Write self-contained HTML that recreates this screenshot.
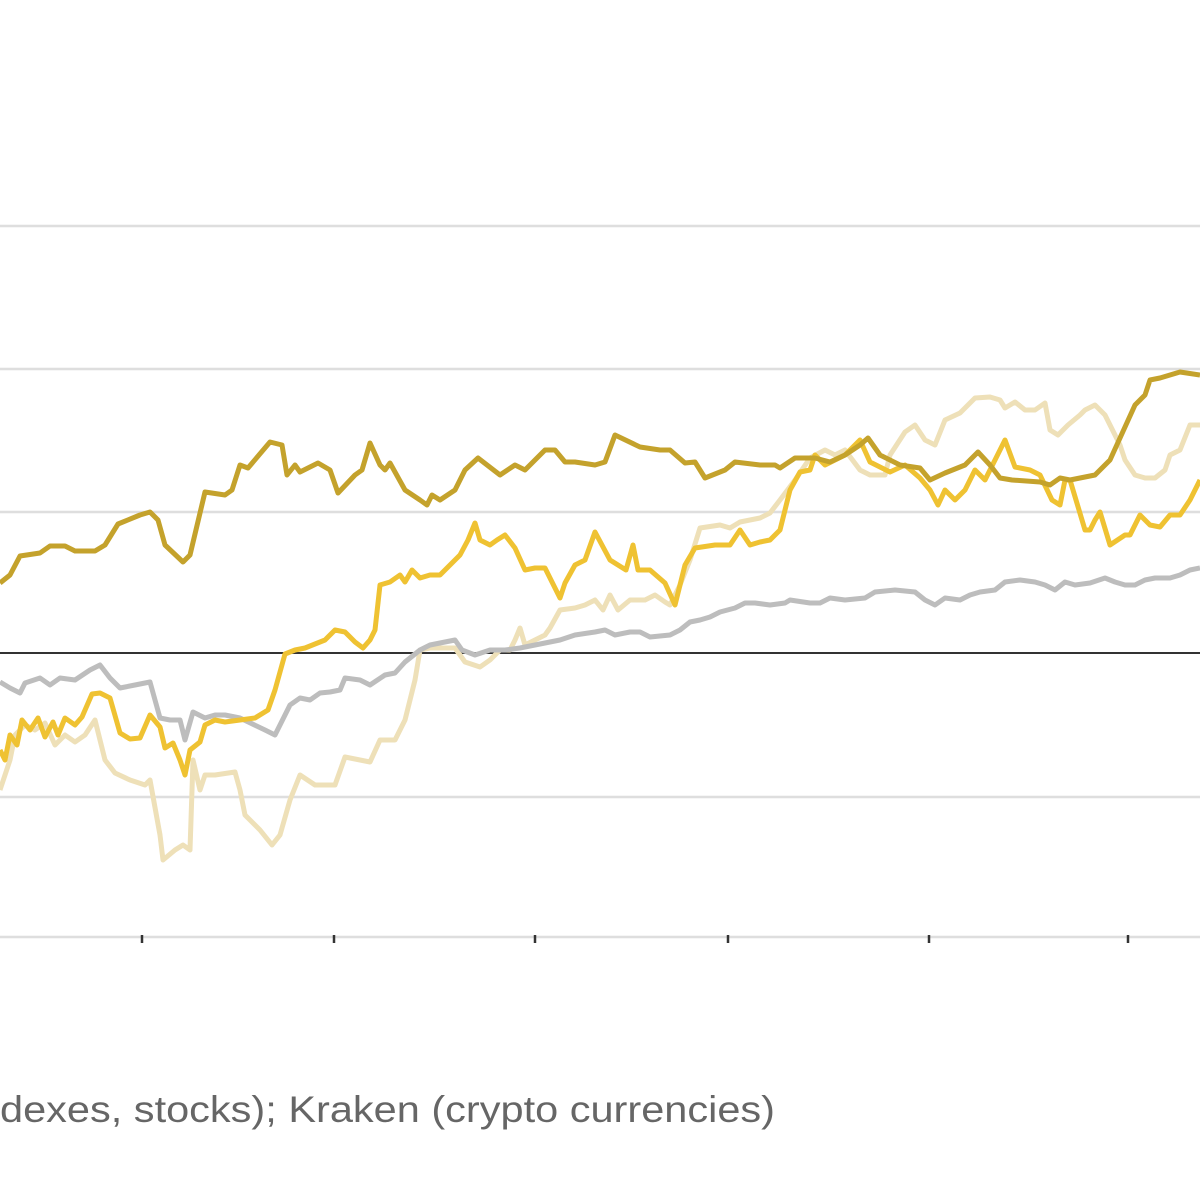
<!DOCTYPE html>
<html><head><meta charset="utf-8"><style>
html,body{margin:0;padding:0;background:#fff;width:1200px;height:1200px;overflow:hidden}
svg{display:block}
</style></head><body>
<svg id="chart" width="1200" height="1200" viewBox="0 0 1200 1200">
<g id="grid"></g>
<g id="series"></g>
<text x="0" y="1122" font-family="Liberation Sans, sans-serif" font-size="37" fill="#666" textLength="775" lengthAdjust="spacingAndGlyphs">dexes, stocks); Kraken (crypto currencies)</text>
</svg>
<script>
const gridValues = [427, 284, 141, -144, -284];
const xTicks = [142, 334, 535, 728, 929, 1128];

const goldDays = [0,10,20,40,50,65,75,95,105,118,140,150,158,165,183,190,205,225,232,240,248,270,282,287,295,300,318,330,338,355,362,370,380,385,390,405,420,427,432,440,455,465,478,500,515,525,545,555,565,575,595,605,615,640,660,670,685,695,705,725,735,760,775,780,795,815,830,845,860,868,880,900,920,930,945,965,978,990,1000,1012,1040,1050,1060,1070,1095,1110,1135,1145,1150,1160,1180,1200];
const goldValues = [70,78,97,100,107,107,102,102,108,129,138,141,133,108,91,98,161,158,163,188,185,211,208,178,188,181,190,183,160,178,183,210,188,183,190,163,153,148,158,153,163,183,195,178,188,183,203,203,191,191,188,191,218,206,203,203,190,191,175,183,191,188,188,185,195,195,191,198,208,215,198,188,185,173,180,188,201,188,175,173,171,168,175,173,178,193,248,258,273,275,281,278];

const yellowDays = [0,5,10,17,22,30,38,45,53,58,65,75,82,92,100,110,120,130,140,150,160,165,173,180,185,190,200,205,215,225,240,255,268,275,285,295,305,325,335,345,355,363,370,375,380,390,400,405,412,420,430,440,450,460,468,475,480,490,497,505,515,525,535,545,560,565,575,585,595,610,618,626,633,638,650,665,675,685,695,715,730,740,750,760,770,780,790,800,810,815,825,835,845,855,860,870,890,905,920,930,938,945,955,965,975,985,995,1005,1015,1030,1040,1052,1060,1065,1070,1085,1090,1095,1100,1110,1125,1130,1140,1150,1160,1170,1180,1190,1200];
const yellowValues = [-97,-107,-82,-92,-67,-77,-65,-84,-69,-82,-65,-72,-64,-41,-40,-45,-80,-86,-85,-62,-74,-95,-90,-107,-122,-97,-89,-72,-67,-69,-67,-65,-57,-37,-1,3,5,13,23,21,11,5,13,23,68,71,78,71,83,75,78,78,88,98,113,130,113,108,113,118,105,83,85,85,55,70,88,93,121,93,88,83,108,83,83,70,48,88,105,108,108,123,108,111,113,123,163,181,183,198,188,193,198,208,213,191,181,188,175,163,148,163,153,163,183,173,193,213,186,183,178,153,148,173,173,123,123,133,141,108,118,118,138,128,126,138,138,153,173];

const beigeDays = [0,10,15,25,35,45,55,65,75,85,95,105,115,130,145,150,160,163,175,183,190,193,200,205,215,235,240,245,260,272,280,290,300,315,325,335,345,360,370,380,395,405,415,420,430,445,455,465,480,490,500,510,515,520,525,535,545,550,560,575,585,595,603,610,618,630,645,655,665,670,680,690,700,720,730,740,760,770,780,795,810,825,835,845,860,870,885,890,905,915,925,935,945,960,975,990,1000,1005,1015,1025,1035,1045,1050,1058,1068,1080,1085,1095,1105,1115,1120,1125,1135,1145,1155,1165,1170,1180,1190,1200];
const beigeValues = [-137,-107,-82,-72,-77,-70,-92,-82,-89,-82,-67,-107,-120,-127,-132,-127,-182,-207,-197,-192,-197,-107,-137,-122,-122,-119,-137,-162,-177,-192,-182,-147,-122,-132,-132,-132,-104,-107,-109,-87,-87,-67,-27,3,5,5,5,-9,-14,-7,3,3,13,25,8,13,18,25,43,45,48,53,43,58,43,53,53,58,51,48,68,93,125,128,125,131,135,140,153,173,195,203,198,203,183,178,178,198,221,228,213,208,233,240,255,256,253,245,251,243,243,250,223,218,228,238,243,248,238,218,208,193,178,175,175,183,198,203,228,228];

const greyDays = [0,10,20,25,40,50,60,75,90,100,110,120,135,145,150,160,170,180,185,193,205,215,225,240,265,275,285,290,300,310,320,330,340,345,360,370,385,395,405,420,430,455,462,475,490,505,520,535,550,560,575,595,605,615,630,640,650,670,680,690,700,710,720,735,745,755,770,785,790,810,820,830,845,865,875,895,915,925,935,945,960,970,980,995,1005,1020,1035,1045,1055,1065,1075,1090,1105,1115,1125,1135,1145,1155,1170,1180,1190,1200];
const greyValues = [-29,-35,-40,-30,-25,-32,-25,-27,-17,-12,-25,-35,-32,-30,-29,-65,-67,-67,-87,-59,-65,-62,-62,-65,-77,-82,-62,-52,-45,-47,-40,-39,-37,-25,-27,-32,-22,-20,-9,3,8,13,3,-2,3,3,5,8,11,13,18,21,23,18,21,21,16,18,23,31,33,36,41,45,50,50,48,50,53,50,50,55,53,55,61,63,61,53,48,55,53,58,61,63,71,73,71,68,63,71,68,70,75,71,68,68,73,75,75,78,83,85];

const X0 = 0, X1 = 1200, D0 = 0, D1 = 1200;
const BASE_Y = 653;
function xScale(d){ return X0 + (d - D0) / (D1 - D0) * (X1 - X0); }
function yScale(v){ return BASE_Y - v; }

const NS = 'http://www.w3.org/2000/svg';
const grid = document.getElementById('grid');
gridValues.forEach(v => {
  const l = document.createElementNS(NS, 'line');
  
  
  l.setAttribute('x1', 0); l.setAttribute('x2', 1200);
  l.setAttribute('y1', yScale(v)); l.setAttribute('y2', yScale(v));
  l.setAttribute('stroke', '#dedede'); l.setAttribute('stroke-width', 2.5);
  grid.appendChild(l);
});
xTicks.forEach(d => {
  const t = document.createElementNS(NS, 'line');
  
  
  t.setAttribute('x1', xScale(d)); t.setAttribute('x2', xScale(d));
  t.setAttribute('y1', 935); t.setAttribute('y2', 943);
  t.setAttribute('stroke', '#333'); t.setAttribute('stroke-width', 2.5);
  grid.appendChild(t);
});

const seriesG = document.getElementById('series');
function drawLine(days, values, color, name){
  const p = document.createElementNS(NS, 'polyline');
  
  
  p.setAttribute('points', days.map((d,i) => xScale(d) + ',' + yScale(values[i])).join(' '));
  p.setAttribute('fill', 'none'); p.setAttribute('stroke', color);
  p.setAttribute('stroke-width', 5); p.setAttribute('stroke-linejoin', 'round');
  seriesG.appendChild(p);
}
const zero = document.createElementNS(NS, 'line');


zero.setAttribute('x1', 0); zero.setAttribute('x2', 1200);
zero.setAttribute('y1', yScale(0)); zero.setAttribute('y2', yScale(0));
zero.setAttribute('stroke', '#333'); zero.setAttribute('stroke-width', 2);
seriesG.appendChild(zero);
drawLine(beigeDays, beigeValues, '#eee0b8', 'line-beige');
drawLine(greyDays, greyValues, '#bdbdbd', 'line-grey');
drawLine(yellowDays, yellowValues, '#efc232', 'line-yellow');
drawLine(goldDays, goldValues, '#c4a22c', 'line-gold');
</script>
</body></html>
